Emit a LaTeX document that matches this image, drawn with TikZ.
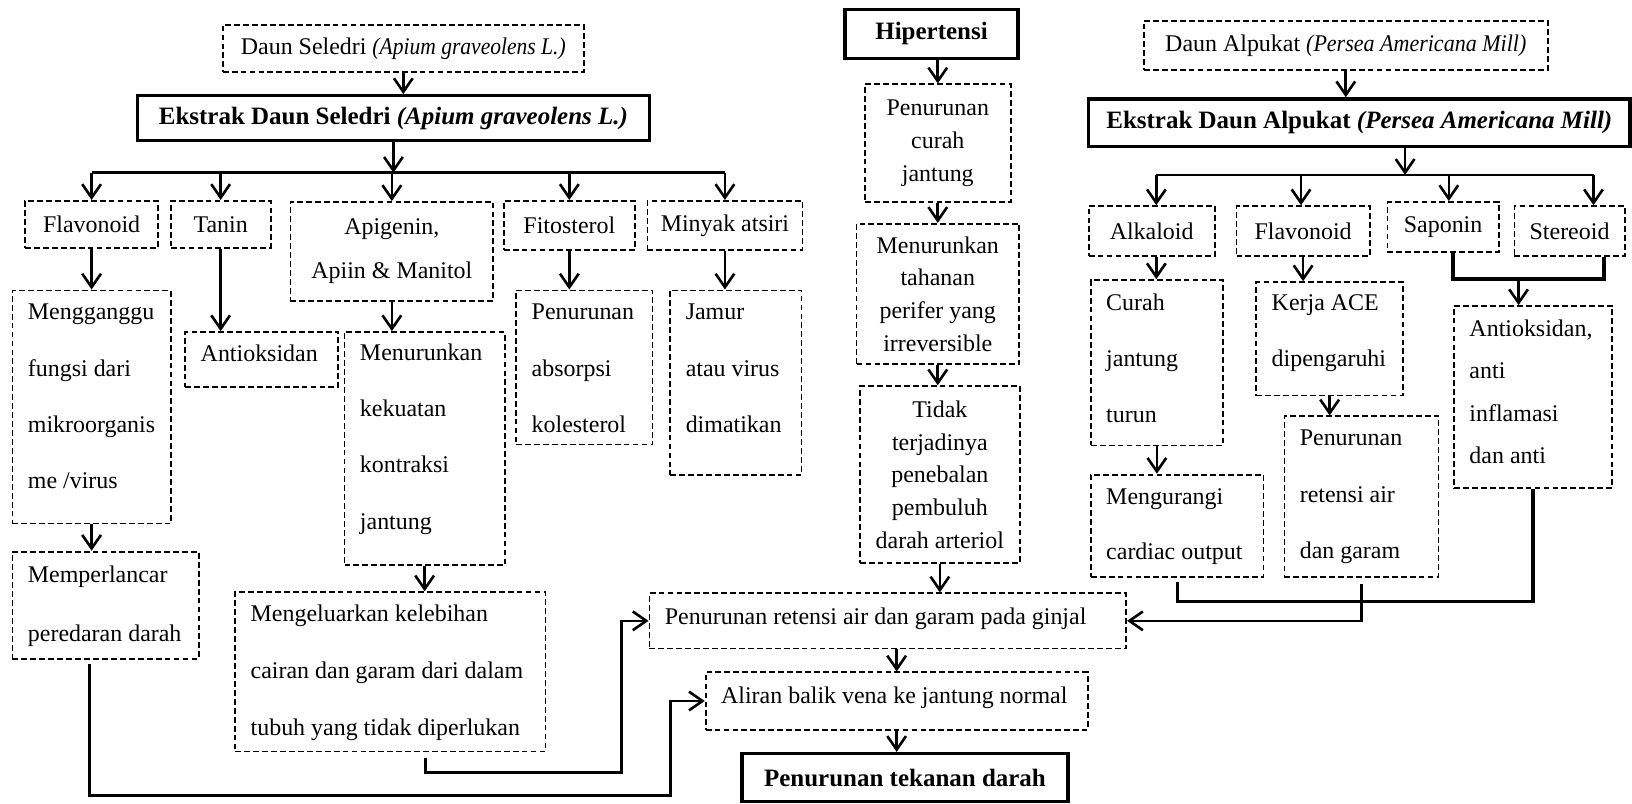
\documentclass[tikz,border=0pt]{standalone}
\usepackage{fontspec}
\setmainfont{Liberation Serif}
\usepackage{graphicx}
\usetikzlibrary{arrows.meta}
% box with centred text inside
\newcommand\mkbox[7][]{%
 \pgfmathsetmacro\mkW{(#5-#3)*0.5}%
 \pgfmathsetmacro\mkH{(#6-#4)*0.5}%
 \pgfmathsetmacro\mkX{(#3+#5)/2}%
 \pgfmathsetmacro\mkY{(#4+#6)/2}%
 \node[box,#1,minimum width=\mkW pt,minimum height=\mkH pt] (#2) at (\mkX,\mkY) {#7};}
% box with left-aligned text; #7 = y of the first line's middle
\newcommand\mkboxl[8][]{%
 \pgfmathsetmacro\mkW{(#5-#3)*0.5}%
 \pgfmathsetmacro\mkH{(#6-#4)*0.5}%
 \pgfmathsetmacro\mkX{(#3+#5)/2}%
 \pgfmathsetmacro\mkY{(#4+#6)/2}%
 \pgfmathsetmacro\mkTX{#3+14}%
 \pgfmathsetmacro\mkTY{#7-8.5}%
 \node[box,#1,minimum width=\mkW pt,minimum height=\mkH pt] (#2) at (\mkX,\mkY) {};
 \node[box,#1,draw=none,inner sep=0pt,align=left,anchor=north west] (#2t) at (\mkTX,\mkTY) {#8};}
\newcommand\cit[2]{\scalebox{#1}[1]{\textit{#2}}}
\tikzset{
 box/.style={draw, dash pattern=on 2.8pt off 1.5pt, line width=0.85pt, inner xsep=4pt, inner ysep=0pt, align=center, font=\fontsize{11.5}{14}\selectfont},
 hbox/.style={solid, line width=1.6pt, font=\fontsize{12}{14}\selectfont\bfseries},
 dbl/.style={font=\fontsize{11.5}{27}\selectfont},
 midl/.style={font=\fontsize{11.5}{15.7}\selectfont},
 arr/.style={-{Straight Barb[length=6.5pt,width=9pt]}, line width=1.25pt},
 ln/.style={line width=1.25pt},
 fl/.style={line width=1.6pt}
}
\begin{document}
\begin{tikzpicture}[x=0.5pt,y=-0.5pt]
\useasboundingbox (0,0) rectangle (1568,772);
% ---------- left column ----------
\mkbox{ds}{214}{24}{561}{69}{Daun Seledri \cit{0.9}{(Apium graveolens L.)}}
\mkbox[hbox]{eds}{132}{92}{624}{135}{Ekstrak Daun Seledri \textit{(Apium graveolens L.)}}
\mkbox{flav}{24}{193}{152}{238}{Flavonoid}
\mkbox{tan}{164}{193}{260}{238}{Tanin}
\mkbox[font=\fontsize{11.5}{21}\selectfont]{api}{279}{194}{474}{289}{Apigenin,\\Apiin \& Manitol}
\mkbox{fit}{484}{193}{610}{240}{Fitosterol}
\mkbox{mny}{622}{193}{771}{240}{Minyak atsiri}
\mkboxl[dbl]{mengg}{12}{279}{164}{503}{300}{Mengganggu\\fungsi dari\\mikroorganis\\me /virus}
\mkboxl{anti1}{178}{319}{325}{372}{339}{Antioksidan}
\mkboxl[dbl]{menk}{331}{319}{485}{543}{338}{Menurunkan\\kekuatan\\kontraksi\\jantung}
\mkboxl[dbl]{abs}{496}{279}{627}{427}{300}{Penurunan\\absorpsi\\kolesterol}
\mkboxl[dbl]{jam}{644}{279}{770}{456}{300}{Jamur\\atau virus\\dimatikan}
\mkboxl[font=\fontsize{11.5}{28.5}\selectfont]{memp}{12}{530}{191}{633}{551}{Memperlancar\\peredaran darah}
\mkboxl[font=\fontsize{11.5}{27.3}\selectfont]{kel}{226}{569}{524}{722}{589}{Mengeluarkan kelebihan\\cairan dan garam dari dalam\\tubuh yang tidak diperlukan}
% ---------- middle column ----------
\mkbox[hbox]{hip}{812}{9}{978}{56}{Hipertensi}
\mkbox[midl]{pcj}{831}{81}{971}{194}{Penurunan\\curah\\jantung}
\mkbox[midl]{mth}{823}{215}{979}{350}{Menurunkan\\tahanan\\perifer yang\\irreversible}
\mkbox[midl]{tdk}{826}{371}{980}{541}{Tidak\\terjadinya\\penebalan\\pembuluh\\darah arteriol}
\mkboxl{gin}{624}{570}{1082}{623}{592}{Penurunan retensi air dan garam pada ginjal}
\mkboxl{alir}{678}{646}{1045}{701}{668}{Aliran balik vena ke jantung normal}
\mkbox[hbox]{ptd}{713}{724}{1026}{770}{Penurunan tekanan darah}
% ---------- right column ----------
\mkbox{da}{1099}{20}{1487}{67}{Daun Alpukat \cit{0.92}{(Persea Americana Mill)}}
\mkbox[hbox]{eda}{1046}{95}{1566}{141}{Ekstrak Daun Alpukat \textit{(Persea Americana Mill)}}
\mkbox{alk}{1046}{198}{1167}{246}{Alkaloid}
\mkbox{fla2}{1188}{198}{1316}{246}{Flavonoid}
\mkbox{sap}{1333}{194}{1440}{242}{Saponin}
\mkbox{ste}{1455}{198}{1561}{246}{Stereoid}
\mkboxl[dbl]{cur}{1048}{269}{1175}{428}{290}{Curah\\jantung\\turun}
\mkboxl[dbl]{ace}{1207}{271}{1348}{380}{291}{Kerja ACE\\dipengaruhi}
\mkboxl[dbl]{ret}{1234}{400}{1382}{554}{421}{Penurunan\\retensi air\\dan garam}
\mkboxl[font=\fontsize{11.5}{20.3}\selectfont]{ant2}{1397}{294}{1549}{469}{315}{Antioksidan,\\anti\\inflamasi\\dan anti}
\mkboxl[font=\fontsize{11.5}{26.5}\selectfont]{kur}{1048}{456}{1214}{554}{477}{Mengurangi\\cardiac output}
% ---------- coordinates ----------
\coordinate (sbar) at (378,166);
\coordinate (c1) at (644,764);
\coordinate (c2) at (597,742);
\coordinate (rbar) at (1350,168);
\coordinate (d1) at (1111,168);
\coordinate (d2) at (1250,168);
\coordinate (d3) at (1392,168);
\coordinate (d4) at (1531,168);
\coordinate (j1) at (1396,268);
\coordinate (j2) at (1541,268);
\coordinate (j3) at (1459,268);
\coordinate (k2) at (1473,578);
% ---------- left connectors ----------
\draw[arr] (ds.south) -- (ds.south |- eds.north);
\draw[arr] (eds.south) -- (sbar);
\draw[ln] (flav.north |- sbar) -- (mny.north |- sbar);
\foreach \n in {flav,tan,api,fit,mny} \draw[arr] (\n.north |- sbar) -- (\n.north);
\draw[arr] (flav.south) -- (flav.south |- mengg.north);
\draw[arr] (tan.south) -- (tan.south |- anti1.north);
\draw[arr] (api.south) -- (api.south |- menk.north);
\draw[arr] (fit.south) -- (fit.south |- abs.north);
\draw[arr] (mny.south) -- (mny.south |- jam.north);
\draw[arr] (mengg.south) -- (mengg.south |- memp.north);
\draw[arr] (menk.south) -- (menk.south |- kel.north);
\draw[fl,arr] ([xshift=-7.75pt,yshift=-2pt]memp.south) |- (c1) |- (alir.west);
\draw[fl,arr] ([xshift=17pt,yshift=-2.5pt]kel.south) |- (c2) |- (gin.west);
% ---------- middle connectors ----------
\draw[arr] (pcj.north |- hip.south) -- (pcj.north);
\draw[arr] (pcj.south) -- (pcj.south |- mth.north);
\draw[arr] (mth.south) -- (mth.south |- tdk.north);
\draw[arr] (tdk.south) -- (tdk.south |- gin.north);
\draw[arr] (alir.north |- gin.south) -- (alir.north);
\draw[arr] (alir.south) -- (alir.south |- ptd.north);
% ---------- right connectors ----------
\draw[arr] (da.south) -- (da.south |- eda.north);
\draw[arr] (eda.south -| rbar) -- (rbar);
\draw[ln] (d1) -- (d4);
\draw[arr] (d1) -- (d1 |- alk.north);
\draw[arr] (d2) -- (d2 |- fla2.north);
\draw[arr] (d3) -- (d3 |- sap.north);
\draw[arr] (d4) -- (d4 |- ste.north);
\draw[arr] (d1 |- alk.south) -- (d1 |- cur.north);
\draw[arr] (fla2.south) -- (fla2.south |- ace.north);
\draw[fl] (j1 |- sap.south) -- (j1) -- (j2) -- (j2 |- ste.south);
\draw[arr] (j3) -- (j3 |- ant2.north);
\draw[arr] (cur.south) -- (cur.south |- kur.north);
\draw[arr] (ace.south) -- (ace.south |- ret.north);
\draw[fl] ([yshift=-2pt]kur.south) |- (k2) -- (ant2.south);
\draw[fl,arr] ([yshift=-3pt]ret.south) |- (gin.east);
\end{tikzpicture}
\end{document}
